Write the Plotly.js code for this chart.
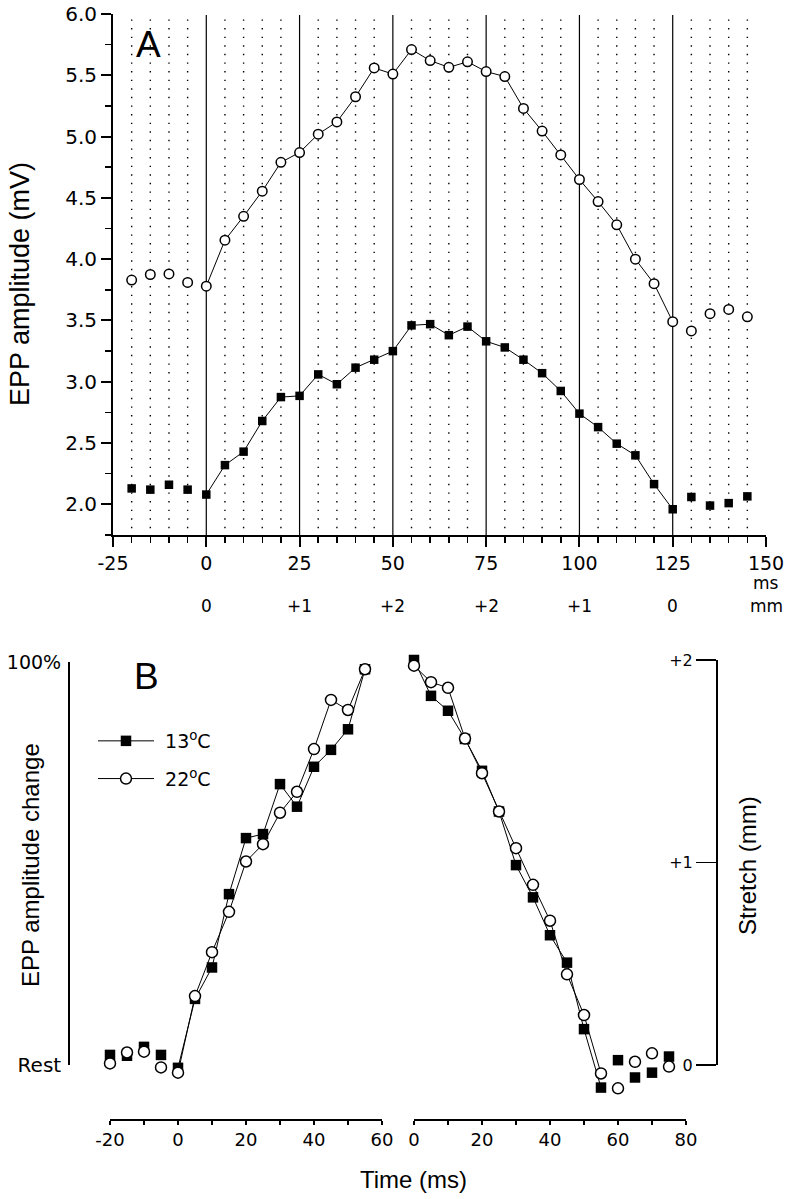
<!DOCTYPE html>
<html>
<head>
<meta charset="utf-8">
<script src="https://cdn.plot.ly/plotly-3.0.1.min.js"></script>
<style>
  body { margin: 0; background: #fff; }
  #chart { width: 793px; height: 1199px; }
</style>
</head>
<body>
<div id="chart"></div>
<script>
// panel A: EPP amplitude (mV) at each stimulus time (ms)
var timeA = [-20, -15, -10, -5, 0, 5, 10, 15, 20, 25, 30, 35, 40, 45, 50, 55, 60, 65, 70, 75,
             80, 85, 90, 95, 100, 105, 110, 115, 120, 125, 130, 135, 140, 145];
var eppA13 = [2.13, 2.12, 2.16, 2.12, 2.08, 2.32, 2.43, 2.68, 2.875, 2.885, 3.06, 2.98, 3.115, 3.18, 3.25,
              3.46, 3.47, 3.38, 3.45, 3.33, 3.28, 3.18, 3.07, 2.925, 2.74, 2.63, 2.495, 2.40, 2.165, 1.96,
              2.06, 1.99, 2.01, 2.065];
var eppA22 = [3.83, 3.875, 3.88, 3.81, 3.78, 4.155, 4.35, 4.555, 4.79, 4.87, 5.02, 5.12, 5.325, 5.56, 5.51,
              5.71, 5.62, 5.565, 5.61, 5.53, 5.49, 5.23, 5.045, 4.85, 4.65, 4.47, 4.28, 4.00, 3.80, 3.49,
              3.415, 3.555, 3.59, 3.53];
var tickA = [-25, 0, 25, 50, 75, 100, 125, 150];
// stretch phases (solid lines) and muscle length (mm) under them
var stretchTimes = [0, 25, 50, 75, 100, 125];
var mmTicks = [0, 25, 50, 75, 100, 125, 150];
var mmLabels = ['0', '+1', '+2', '+2', '+1', '0', 'mm'];

// panel B: normalised amplitude change (%) during stretch on / off
var timeOn = [-20, -15, -10, -5, 0, 5, 10, 15, 20, 25, 30, 35, 40, 45, 50, 55];
var on13 = [2.5, 2.3, 4.5, 2.5, -0.7, 16.4, 24.2, 42.4, 56.3, 57.3, 69.7, 64.1, 74.0, 78.2, 83.3, 98.2];
var on22 = [0.4, 3.1, 3.3, -0.6, -1.9, 17.1, 28.0, 38.0, 50.5, 54.8, 62.6, 67.8, 78.4, 90.6, 88.1, 98.2];
var timeOff = [0, 5, 10, 15, 20, 25, 30, 35, 40, 45, 50, 55, 60, 65, 70, 75];
var off13 = [100.5, 91.6, 87.9, 80.9, 73.0, 62.9, 49.6, 41.6, 32.2, 25.4, 8.9, -5.6, 1.2, -3.1, -1.9, 2.1];
var off22 = [99.1, 95.0, 93.6, 81.0, 72.4, 62.9, 53.8, 44.7, 35.8, 22.5, 12.4, -2.1, -5.8, 0.8, 2.9, -0.4];
var tickOn = [-20, 0, 20, 40, 60];
var tickOff = [0, 20, 40, 60, 80];

var W = 793, H = 1199;
function px(x) { return x / W; }
function py(y) { return 1 - y / H; }
var FONT = 'Arial, "Liberation Sans", sans-serif';
var TICKFONT = '"DejaVu Sans", Verdana, sans-serif';

// split a series into the part inside [lo, hi] or the rest
function pick(ts, vs, lo, hi, inside) {
    var x = [], y = [];
    for (var i = 0; i < ts.length; i++) {
        var inn = ts[i] >= lo && ts[i] <= hi;
        if (inn === inside) { x.push(ts[i]); y.push(vs[i]); }
    }
    return {x: x, y: y};
}

var sqA = {symbol: 'square', size: 8.5, color: '#000'};
var ciA = {symbol: 'circle', size: 9.5, color: '#fff', line: {color: '#000', width: 1.5}};
var sqB = {symbol: 'square', size: 10.5, color: '#000'};
var ciB = {symbol: 'circle', size: 11, color: '#fff', line: {color: '#000', width: 1.5}};

function tr(d, mode, marker, xa, ya, extra) {
    var t = {x: d.x, y: d.y, type: 'scatter', mode: mode, marker: marker,
             line: {color: '#000', width: 1}, xaxis: xa, yaxis: ya,
             showlegend: false, cliponaxis: false, hoverinfo: 'x+y'};
    for (var k in extra) t[k] = extra[k];
    return t;
}

var data = [
    // A
    tr(pick(timeA, eppA13, 0, 125, true), 'lines+markers', sqA, 'x', 'y'),
    tr(pick(timeA, eppA13, 0, 125, false), 'markers', sqA, 'x', 'y'),
    tr(pick(timeA, eppA22, 0, 125, true), 'lines+markers', ciA, 'x', 'y'),
    tr(pick(timeA, eppA22, 0, 125, false), 'markers', ciA, 'x', 'y'),
    // B, stretch on
    tr(pick(timeOn, on13, 0, 55, true), 'lines+markers', sqB, 'x2', 'y2',
       {showlegend: true, name: '\u00a013<sup>o</sup>C', legendgroup: 'a'}),
    tr(pick(timeOn, on13, 0, 55, false), 'markers', sqB, 'x2', 'y2'),
    tr(pick(timeOn, on22, 0, 55, true), 'lines+markers', ciB, 'x2', 'y2',
       {showlegend: true, name: '\u00a022<sup>o</sup>C', legendgroup: 'b'}),
    tr(pick(timeOn, on22, 0, 55, false), 'markers', ciB, 'x2', 'y2'),
    // B, stretch off
    tr(pick(timeOff, off13, 0, 55, true), 'lines+markers', sqB, 'x3', 'y2'),
    tr(pick(timeOff, off13, 0, 55, false), 'markers', sqB, 'x3', 'y2'),
    tr(pick(timeOff, off22, 0, 55, true), 'lines+markers', ciB, 'x3', 'y2'),
    tr(pick(timeOff, off22, 0, 55, false), 'markers', ciB, 'x3', 'y2'),
    // empty traces so the free bracket axes get a subplot
    {x: [], y: [], type: 'scatter', xaxis: 'x2', yaxis: 'y3', showlegend: false},
    {x: [], y: [], type: 'scatter', xaxis: 'x3', yaxis: 'y4', showlegend: false}
];

// percent axis of panel B: Rest at y=1065px, 100% at y=662px
var pctPerPx = 100 / (1065 - 662);

// dotted line at every stimulus time, solid line at each stretch step
var shapes = [];
timeA.forEach(function (t) {
    if (stretchTimes.indexOf(t) >= 0) return;
    shapes.push({type: 'line', xref: 'x', yref: 'y domain', x0: t, x1: t, y0: 0.013, y1: 0.996,
                 line: {color: '#000', width: 1.4, dash: '1.4px,7.2px'}, layer: 'below'});
});
stretchTimes.forEach(function (t) {
    shapes.push({type: 'line', xref: 'x', yref: 'y domain', x0: t, x1: t, y0: 0, y1: 0.998,
                 line: {color: '#000', width: 1.2}, layer: 'below'});
});

var annotations = [
    {text: 'A', x: px(148), y: py(45), font: {size: 37}},
    {text: 'B', x: px(146), y: py(676), font: {size: 37}},
    {text: 'EPP amplitude (mV)', x: px(20), y: py(284), textangle: -90, font: {size: 27}},
    {text: 'ms', x: 150, xref: 'x', y: py(583), font: {size: 17, family: TICKFONT}},
    {text: 'EPP amplitude change', x: px(30), y: py(865), textangle: -90, font: {size: 24}},
    {text: 'Stretch (mm)', x: px(748), y: py(866), textangle: -90, font: {size: 24}},
    {text: 'Time (ms)', x: px(414), y: py(1179), font: {size: 24}}
];
mmTicks.forEach(function (t, i) {
    annotations.push({text: mmLabels[i], x: t, xref: 'x', y: py(606), font: {size: 17, family: TICKFONT}});
});
annotations.forEach(function (a) {
    if (!a.xref) a.xref = 'paper';
    a.yref = 'paper';
    a.showarrow = false;
    a.xanchor = 'center';
    a.yanchor = 'middle';
    if (!a.font.family) a.font.family = FONT;
    a.font.color = '#000';
});

var layout = {
    width: W, height: H,
    margin: {l: 0, r: 0, t: 0, b: 0},
    paper_bgcolor: '#fff', plot_bgcolor: 'rgba(0,0,0,0)',
    font: {family: FONT, color: '#000', size: 17},
    showlegend: true,
    legend: {x: px(93), y: py(722), xanchor: 'left', yanchor: 'top',
             bgcolor: 'rgba(0,0,0,0)', font: {size: 19, family: TICKFONT}, itemwidth: 56,
             traceorder: 'grouped', tracegroupgap: 10},
    xaxis: {domain: [px(113), px(766)], range: [-25, 150], anchor: 'y',
            showline: true, linewidth: 2, linecolor: '#000',
            tickmode: 'array', tickvals: tickA, ticktext: tickA.map(String),
            ticks: 'outside', ticklen: 10, tickwidth: 2, tickcolor: '#000',
            tickfont: {size: 19, family: TICKFONT},
            minor: {dtick: 5, tick0: 0, ticks: 'outside', ticklen: 6, tickwidth: 1.5, tickcolor: '#000'},
            showgrid: false, zeroline: false, fixedrange: true},
    yaxis: {domain: [py(535), py(14)], range: [1.75, 6.0], anchor: 'x',
            showline: true, linewidth: 2, linecolor: '#000',
            dtick: 0.5, tick0: 0, tickformat: '.1f',
            ticks: 'outside', ticklen: 10, tickwidth: 2, tickcolor: '#000',
            tickfont: {size: 20, family: TICKFONT},
            minor: {dtick: 0.25, tick0: 0, ticks: 'outside', ticklen: 6, tickwidth: 1.5, tickcolor: '#000'},
            showgrid: false, zeroline: false, fixedrange: true},
    // hidden data axis of panel B
    yaxis2: {domain: [py(1119), py(640)],
             range: [-(1119 - 1065) * pctPerPx, 100 + (662 - 640) * pctPerPx],
             visible: false, fixedrange: true},
    xaxis2: {domain: [px(110), px(382)], range: [-20, 60], anchor: 'y2',
             showline: true, linewidth: 1.5, linecolor: '#000',
             tickmode: 'array', tickvals: tickOn, ticktext: tickOn.map(String),
             ticks: 'outside', ticklen: 4, tickwidth: 1.5, tickcolor: '#000',
             tickfont: {size: 18, family: TICKFONT},
             minor: {dtick: 10, ticks: 'outside', ticklen: 4, tickwidth: 1.5, tickcolor: '#000'},
             showgrid: false, zeroline: false, fixedrange: true},
    xaxis3: {domain: [px(414), px(686)], range: [0, 80], anchor: 'y2',
             showline: true, linewidth: 1.5, linecolor: '#000',
             tickmode: 'array', tickvals: tickOff, ticktext: tickOff.map(String),
             ticks: 'outside', ticklen: 4, tickwidth: 1.5, tickcolor: '#000',
             tickfont: {size: 18, family: TICKFONT},
             minor: {dtick: 10, ticks: 'outside', ticklen: 4, tickwidth: 1.5, tickcolor: '#000'},
             showgrid: false, zeroline: false, fixedrange: true},
    // bracket axes of panel B
    yaxis3: {domain: [py(1065), py(662)], range: [0, 100], anchor: 'free', position: px(68), side: 'left',
             showline: true, linewidth: 1.5, linecolor: '#000',
             tickmode: 'array', tickvals: [0, 100],
             ticktext: ['<span style="font-size:20px">Rest</span>', '100%'],
             ticks: 'inside', ticklen: 20, tickwidth: 1.5, tickcolor: '#000',
             tickfont: {size: 19, family: TICKFONT}, ticklabelstandoff: 3,
             showgrid: false, zeroline: false, fixedrange: true},
    yaxis4: {domain: [py(1065), py(660)], range: [0, 2], anchor: 'free', position: px(716), side: 'left',
             showline: true, linewidth: 1.5, linecolor: '#000',
             tickmode: 'array', tickvals: [0, 1, 2], ticktext: ['0', '+1', '+2'],
             ticks: 'outside', ticklen: 20, tickwidth: 1.5, tickcolor: '#000',
             tickfont: {size: 16, family: TICKFONT},
             showgrid: false, zeroline: false, fixedrange: true},
    shapes: shapes,
    annotations: annotations
};

Plotly.newPlot('chart', data, layout, {displayModeBar: false, staticPlot: true});
</script>
</body>
</html>
